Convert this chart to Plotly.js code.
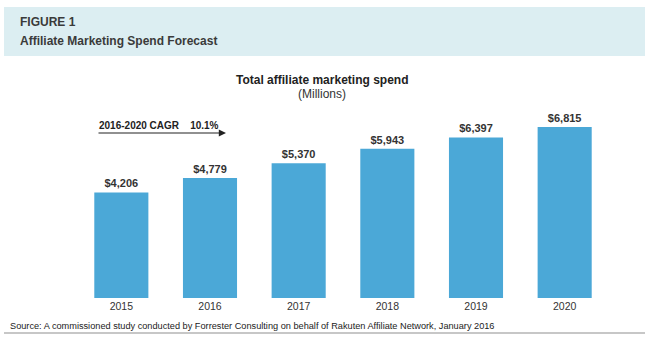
<!DOCTYPE html>
<html>
<head>
<meta charset="utf-8">
<script src="https://cdn.plot.ly/plotly-3.0.1.min.js"></script>
<style>html,body{margin:0;padding:0;background:#fff;}#chart{width:650px;height:344px;}</style>
</head>
<body>
<div id="chart"></div>
<script>
var years = ['2015', '2016', '2017', '2018', '2019', '2020'];
var spend = [4206, 4779, 5370, 5943, 6397, 6815];
var figureLabel = 'FIGURE 1';
var figureTitle = 'Affiliate Marketing Spend Forecast';
var chartTitle = 'Total affiliate marketing spend';
var chartSubtitle = '(Millions)';
var cagrText = '2016-2020 CAGR&nbsp;&nbsp;&nbsp;&nbsp;10.1%';
var sourceText = 'Source: A commissioned study conducted by Forrester Consulting on behalf of Rakuten Affiliate Network, January 2016';

var W = 650, H = 344;
function px(x){ return x / W; }
function py(y){ return 1 - y / H; }
var font = 'Liberation Sans, Arial, sans-serif';

var trace = {
  type: 'bar',
  x: years,
  y: spend,
  marker: {color: '#4ba8d7'},
  text: spend.map(function(v){ return '$' + v.toLocaleString('en-US'); }),
  textposition: 'outside',
  textfont: {family: font, size: 11, color: '#333333', weight: 'bold'},
  cliponaxis: false,
  hoverinfo: 'none'
};

var layout = {
  width: W, height: H,
  margin: {l: 0, r: 0, t: 0, b: 0},
  paper_bgcolor: '#ffffff',
  plot_bgcolor: 'rgba(0,0,0,0)',
  showlegend: false,
  bargap: 0.39,
  font: {family: font, color: '#333333'},
  xaxis: {
    domain: [px(77), px(609)],
    type: 'category',
    showgrid: false, zeroline: false, showline: false,
    ticks: '', ticklen: 0,
    tickfont: {family: font, size: 10.5, color: '#333333'},
    fixedrange: true
  },
  yaxis: {
    domain: [py(298), py(100)],
    range: [0, 7890],
    visible: false,
    fixedrange: true
  },
  shapes: [
    {type: 'rect', xref: 'paper', yref: 'paper', x0: px(4), x1: px(645), y0: py(56), y1: py(7),
     fillcolor: '#dceef2', line: {width: 0}, layer: 'below'},
    {type: 'line', xref: 'paper', yref: 'paper', x0: px(4), x1: px(645), y0: py(333), y1: py(333),
     line: {color: '#b5b5b5', width: 1.5}}
  ],
  annotations: [
    {xref: 'paper', yref: 'paper', x: px(18), y: py(22), xanchor: 'left', yanchor: 'middle',
     text: '<b>' + figureLabel + '</b>', showarrow: false, font: {family: font, size: 12, color: '#3a3a3a'}},
    {xref: 'paper', yref: 'paper', x: px(18), y: py(41), xanchor: 'left', yanchor: 'middle',
     text: '<b>' + figureTitle + '</b>', showarrow: false, font: {family: font, size: 12, color: '#3a3a3a'}},
    {xref: 'paper', yref: 'paper', x: px(322), y: py(80), xanchor: 'center', yanchor: 'middle',
     text: '<b>' + chartTitle + '</b>', showarrow: false, font: {family: font, size: 12, color: '#222222'}},
    {xref: 'paper', yref: 'paper', x: px(322), y: py(94), xanchor: 'center', yanchor: 'middle',
     text: chartSubtitle, showarrow: false, font: {family: font, size: 12, color: '#333333'}},
    {xref: 'paper', yref: 'paper', x: px(97), y: py(125), xanchor: 'left', yanchor: 'middle',
     text: '<b>' + cagrText + '</b>', showarrow: false, font: {family: font, size: 10, color: '#222222'}},
    {xref: 'paper', yref: 'paper', x: px(226), y: py(133), ax: -129, ay: 0, text: '',
     showarrow: true, arrowhead: 2, arrowsize: 1.2, arrowwidth: 1.2, arrowcolor: '#222222'},
    {xref: 'paper', yref: 'paper', x: px(8), y: py(326), xanchor: 'left', yanchor: 'middle',
     text: sourceText, showarrow: false, font: {family: font, size: 9.2, color: '#222222'}}
  ]
};

Plotly.newPlot('chart', [trace], layout, {displayModeBar: false, staticPlot: true});
</script>
</body>
</html>
